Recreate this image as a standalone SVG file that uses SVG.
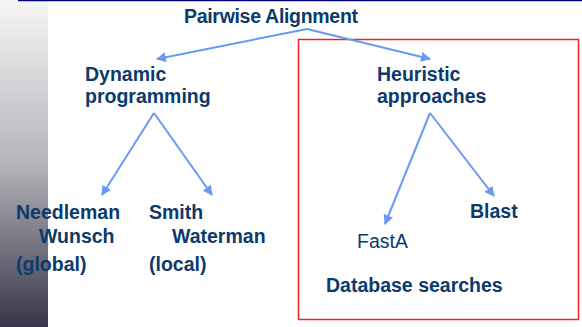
<svg xmlns="http://www.w3.org/2000/svg" width="582" height="327" viewBox="0 0 582 327">
  <defs>
    <linearGradient id="bar" x1="0" y1="0" x2="0" y2="1">
      <stop offset="0" stop-color="#f6f6f6"/>
      <stop offset="0.5" stop-color="#b4b4ba"/>
      <stop offset="1" stop-color="#363648"/>
    </linearGradient>
    <marker id="ah" viewBox="0 0 10 10" refX="9" refY="5" markerWidth="5" markerHeight="5" markerUnits="strokeWidth" orient="auto">
      <path d="M0,0 L10,5 L0,10 z" fill="#6b98f4"/>
    </marker>
    <style>
      .t{font-family:"Liberation Sans",Arial,sans-serif;font-size:19.5px;fill:#0b3a6b;font-weight:bold}
      .r{font-weight:normal}
      .c{fill:none;stroke:#6b98f4;stroke-width:2;marker-end:url(#ah)}
    </style>
  </defs>
  <rect x="0" y="0" width="582" height="327" fill="#ffffff"/>
  <rect x="0" y="0" width="48" height="327" fill="url(#bar)"/>
  <line x1="18" y1="0.5" x2="582" y2="0.5" stroke="#000080" stroke-width="1.5"/>
  <rect id="heuristic-box" x="298.5" y="39.5" width="280" height="280" fill="none" stroke="#ee2222" stroke-width="1.5"/>

  <g id="connectors">
    <polyline class="c" points="307,29 157,59"/>
    <polyline class="c" points="307,29 430,59"/>
    <polyline class="c" points="154,113 102,195"/>
    <polyline class="c" points="154,113 212,195"/>
    <polyline class="c" points="430,113 385,224"/>
    <polyline class="c" points="430,113 494,196"/>
  </g>

  <g id="pairwise"><text class="t" x="184" y="23" textLength="174">Pairwise Alignment</text></g>
  <g id="dynamic"><text class="t" x="85" y="81">Dynamic</text><text class="t" x="85" y="103">programming</text></g>
  <g id="heuristic"><text class="t" x="377" y="81">Heuristic</text><text class="t" x="377" y="103">approaches</text></g>
  <g id="needleman"><text class="t" x="16" y="219">Needleman</text><text class="t" x="39" y="243">Wunsch</text><text class="t" x="16" y="271">(global)</text></g>
  <g id="smith"><text class="t" x="149" y="219">Smith</text><text class="t" x="172" y="243">Waterman</text><text class="t" x="149" y="271">(local)</text></g>
  <g id="blast"><text class="t" x="470" y="218">Blast</text></g>
  <g id="fasta"><text class="t r" x="357" y="248">FastA</text></g>
  <g id="database"><text class="t" x="326" y="292">Database searches</text></g>
</svg>
